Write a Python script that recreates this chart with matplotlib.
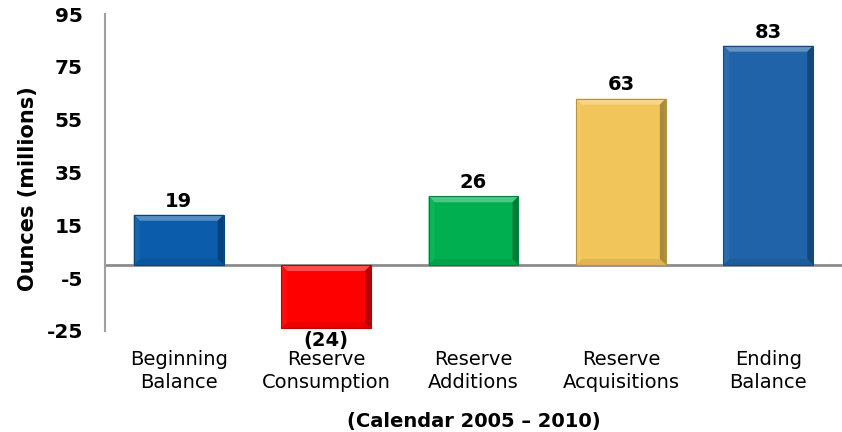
import matplotlib
matplotlib.use("Agg")
import matplotlib.pyplot as plt
from matplotlib.patches import Polygon
from matplotlib.colors import to_rgb
import numpy as np

categories = ["Beginning\nBalance", "Reserve\nConsumption", "Reserve\nAdditions",
              "Reserve\nAcquisitions", "Ending\nBalance"]
values = [19, -24, 26, 63, 83]
value_labels = ["19", "(24)", "26", "63", "83"]
colors = ["#0B5DAB", "#FF0000", "#00B050", "#F2C55A", "#2163A8"]
yticks = [-25, -5, 15, 35, 55, 75, 95]

plt.rcParams['font.family'] = ['DejaVu Sans']

W, H = 842, 432
fig = plt.figure(figsize=(W / 100, H / 100), dpi=100)
ax = fig.add_axes([105 / W, (H - 331) / H, (842 - 105) / W, 317 / H])

x = np.arange(len(values))
bw = 0.61
bars = ax.bar(x, values, width=bw, color=colors, edgecolor="none", zorder=2)

ax.set_xlim(-0.5, len(values) - 0.5)
ax.set_ylim(-25, 95)


def mix(c, t, amt):
    c = np.array(to_rgb(c)); t = np.array(to_rgb(t))
    return tuple(c + (t - c) * amt)


# bevel effect
px_x = (len(values)) / (842 - 105)
px_y = 120 / 317
bev = 6
dx, dy = bev * px_x, bev * px_y
for b, c in zip(bars, colors):
    x0 = b.get_x(); x1 = x0 + b.get_width()
    y0 = min(b.get_y(), b.get_y() + b.get_height())
    y1 = max(b.get_y(), b.get_y() + b.get_height())
    top = [(x0, y1), (x1, y1), (x1 - dx, y1 - dy), (x0 + dx, y1 - dy)]
    bot = [(x0, y0), (x1, y0), (x1 - dx, y0 + dy), (x0 + dx, y0 + dy)]
    left = [(x0, y0), (x0, y1), (x0 + dx, y1 - dy), (x0 + dx, y0 + dy)]
    right = [(x1, y0), (x1, y1), (x1 - dx, y1 - dy), (x1 - dx, y0 + dy)]
    for poly, col in [(top, mix(c, "white", 0.3)), (bot, mix(c, "black", 0.08)),
                      (left, mix(c, "white", 0.05)), (right, mix(c, "black", 0.3))]:
        ax.add_patch(Polygon(poly, closed=True, facecolor=col, edgecolor="none", zorder=3))
    ax.add_patch(plt.Rectangle((x0, y0), x1 - x0, y1 - y0, fill=False,
                               edgecolor=mix(c, "black", 0.25), lw=0.8, zorder=4))

for xi, v, lab in zip(x, values, value_labels):
    if v >= 0:
        ax.annotate(lab, (xi, v), xytext=(0, 3), textcoords="offset points",
                    ha="center", va="bottom", fontsize=14, fontweight="bold", zorder=5)
    else:
        ax.annotate(lab, (xi, v), xytext=(0, -2), textcoords="offset points",
                    ha="center", va="top", fontsize=14, fontweight="bold", zorder=5)

ax.axhline(0, color="#8C8C8C", lw=2, zorder=1)

ax.set_yticks(yticks)
ax.set_yticklabels([str(t) for t in yticks], fontsize=14.5, fontweight="bold")
ax.set_xticks(x)
ax.set_xticklabels(categories, fontsize=14, linespacing=1.25)
ax.tick_params(axis="y", length=0, pad=16)
ax.tick_params(axis="x", length=0, pad=14)

for s in ["top", "right", "bottom"]:
    ax.spines[s].set_visible(False)
ax.spines["left"].set_color("#A0A0A0")
ax.spines["left"].set_linewidth(1.5)

ax.set_ylabel("Ounces (millions)", fontsize=15, fontweight="bold", va="center")
ax.yaxis.set_label_coords((28 - 105) / 737, (331 - 189) / 317)
ax.set_xlabel("(Calendar 2005 \u2013 2010)", fontsize=14, fontweight="bold", labelpad=14)

fig.savefig("out.png", dpi=100)
